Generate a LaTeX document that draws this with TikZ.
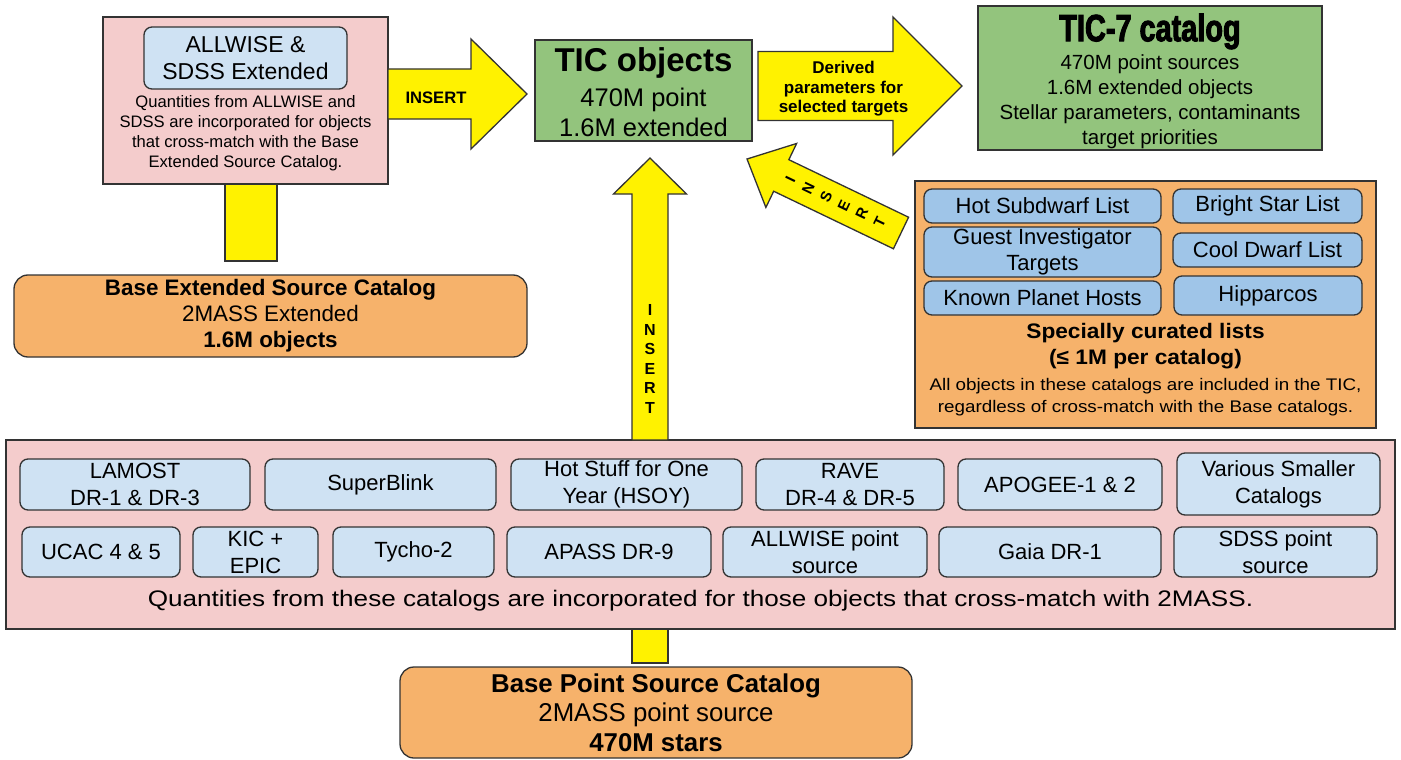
\documentclass[tikz,border=0pt]{standalone}
\usepackage{fontspec}
\setmainfont{Liberation Sans}
\newfontfamily\heavyfont[FakeStretch=0.76,FakeBold=2.5]{Liberation Sans}
\definecolor{pinkc}{HTML}{F4CCCC}
\definecolor{lbluec}{HTML}{CFE2F3}
\definecolor{mbluec}{HTML}{9FC5E8}
\definecolor{orangec}{HTML}{F6B26B}
\definecolor{greenc}{HTML}{93C47D}
\definecolor{edgec}{HTML}{333333}
\newcommand\fs[2]{\fontsize{#1}{#2}\selectfont}
\newcommand\sx[2]{\scalebox{#1}[1]{#2}}
% block arrow: #1 tail coordinate, #2 tip coordinate, #3 shaft half width, #4 head half width, #5 head length
\newcommand\blockarrow[5]{%
  \path (#1); \pgfgetlastxy{\BAax}{\BAay}%
  \path (#2); \pgfgetlastxy{\BAbx}{\BAby}%
  \pgfmathsetmacro\BAang{atan2(\BAby-\BAay,\BAbx-\BAax)}%
  \pgfmathsetmacro\BAlen{veclen(\BAbx-\BAax,\BAby-\BAay)}%
  \pgfmathsetmacro\BAhb{\BAlen-#5}%
  \begin{scope}[shift={(\BAax,\BAay)},rotate=\BAang]
    \draw[yarrow] (0pt,#3pt) -- (\BAhb pt,#3pt) -- (\BAhb pt,#4pt) -- (\BAlen pt,0pt)
      -- (\BAhb pt,-#4pt) -- (\BAhb pt,-#3pt) -- (0pt,-#3pt) -- cycle;
  \end{scope}}
\begin{document}
\begin{tikzpicture}[x=1pt,y=-1pt,
  every node/.style={inner sep=0pt,outer sep=0pt},
  bx/.style={draw=edgec,line width=1.3pt,anchor=north west,align=center},
  pinkbox/.style={bx,fill=pinkc},
  lblue/.style={bx,fill=lbluec,rounded corners=8pt,font=\fs{22}{27}},
  mblue/.style={bx,fill=mbluec,rounded corners=8pt,font=\fs{22}{26}},
  orbox/.style={bx,fill=orangec,rounded corners=14pt},
  grbox/.style={bx,fill=greenc},
  yarrow/.style={draw=edgec,line width=1.3pt,fill=yellow},
  ystem/.style={bx,fill=yellow},
  txt/.style={align=center}]
\fill[white] (0,0) rectangle (1401,760);
\useasboundingbox (0,0) rectangle (1401,760);

% ---- top left: ALLWISE & SDSS extended
\node[pinkbox,minimum width=285pt,minimum height=167pt] (awbox) at (103,17) {};
\node[lblue,font=\fs{23}{27},minimum width=203pt,minimum height=62pt] (awsrc) at (144,27) {ALLWISE \&\\SDSS Extended};
\node[txt,font=\fs{16.6}{20}] (awtxt) at (245.5,133) {Quantities from ALLWISE and\\SDSS are incorporated for objects\\that cross-match with the Base\\Extended Source Catalog.};
\node[ystem,minimum width=52pt,minimum height=77pt] (stem1) at (225,184) {};
\node[orbox,minimum width=513pt,minimum height=82pt,font=\fs{22.4}{26}] (bes) at (14,275) {\textbf{Base Extended Source Catalog}\\2MASS Extended\\\textbf{1.6M objects}};

% ---- TIC objects
\node[grbox,minimum width=217pt,minimum height=101pt] (tic) at (535,40) {};
\node[font=\fs{33}{36}\bfseries] (tict) at (643.5,63) {TIC objects};
\node[txt,font=\fs{25.5}{30}] (ticb) at (643.5,112) {470M point\\1.6M extended};

% ---- TIC-7 catalog
\node[grbox,minimum width=344pt,minimum height=144pt] (tic7) at (978,6) {};
\node[font=\heavyfont\bfseries\fs{38}{40}] (tic7t) at (1150,31.5) {TIC-7 catalog};
\node[txt,font=\fs{20.5}{25}] (tic7b) at (1150,101.5) {470M point sources\\1.6M extended objects\\Stellar parameters, contaminants\\target priorities};

% ---- specially curated lists
\node[bx,fill=orangec,minimum width=461pt,minimum height=247pt] (cur) at (915,181) {};
\node[mblue,minimum width=237pt,minimum height=34pt] (hsd) at (924,189) {Hot Subdwarf List};
\node[mblue,minimum width=237pt,minimum height=50pt] (git) at (924,227) {Guest Investigator\\Targets};
\node[mblue,minimum width=237pt,minimum height=34pt] (kph) at (924,281) {Known Planet Hosts};
\node[mblue,minimum width=189pt,minimum height=34pt] (bsl) at (1173,189) {Bright Star List};
\node[mblue,minimum width=189pt,minimum height=34pt] (cdl) at (1173,233) {Cool Dwarf List};
\node[mblue,minimum width=188pt,minimum height=39pt] (hip) at (1174,276) {Hipparcos};
\node[txt,font=\fs{21}{26}\bfseries] (curt) at (1145.5,346) {\sx{1.08}{Specially curated lists}\\\sx{1.08}{(≤ 1M per catalog)}};
\node[txt,font=\fs{16.8}{22}] (curs) at (1145.5,397) {\sx{1.12}{All objects in these catalogs are included in the TIC,}\\\sx{1.12}{regardless of cross-match with the Base catalogs.}};

% ---- bottom cross-match catalogs
\node[pinkbox,minimum width=1389pt,minimum height=189pt] (bp) at (6,440) {};
\node[lblue,minimum width=230pt,minimum height=51pt] (lamost) at (20,459) {LAMOST\\DR-1 \& DR-3};
\node[lblue,minimum width=231pt,minimum height=51pt] (sblink) at (265,459) {SuperBlink};
\node[lblue,minimum width=231pt,minimum height=51pt] (hsoy) at (511,459) {Hot Stuff for One\\Year (HSOY)};
\node[lblue,minimum width=188pt,minimum height=51pt] (rave) at (756,459) {RAVE\\DR-4 \& DR-5};
\node[lblue,minimum width=204pt,minimum height=51pt] (apogee) at (958,459) {APOGEE-1 \& 2};
\node[lblue,minimum width=203pt,minimum height=62pt] (various) at (1177,453) {Various Smaller\\Catalogs};
\node[lblue,minimum width=158pt,minimum height=50pt] (ucac) at (22,527) {UCAC 4 \& 5};
\node[lblue,minimum width=125pt,minimum height=50pt] (kic) at (193,527) {KIC +\\EPIC};
\node[lblue,minimum width=161pt,minimum height=50pt] (tycho) at (333,527) {Tycho-2};
\node[lblue,minimum width=204pt,minimum height=50pt] (apass) at (507,527) {APASS DR-9};
\node[lblue,minimum width=204pt,minimum height=50pt] (awpt) at (723,527) {ALLWISE point\\source};
\node[lblue,minimum width=222pt,minimum height=50pt] (gaia) at (939,527) {Gaia DR-1};
\node[lblue,minimum width=203pt,minimum height=50pt] (sdss) at (1174,527) {SDSS point\\source};
\node[font=\fs{22.5}{27}] (bpt) at (700.5,600.5) {\sx{1.16}{Quantities from these catalogs are incorporated for those objects that cross-match with 2MASS.}};
\node[ystem,minimum width=36pt,minimum height=34pt] (stem2) at (632,629) {};
\node[orbox,minimum width=512pt,minimum height=91pt,font=\fs{25.8}{29.5}] (bps) at (400,667) {\textbf{Base Point Source Catalog}\\2MASS point source\\\textbf{470M stars}};

% ---- yellow block arrows
\coordinate (a1s) at (388,94);
\coordinate (a1e) at (527,94);
\blockarrow{a1s}{a1e}{25}{55}{56}
\node[font=\fs{16.6}{20}\bfseries] (a1t) at (436,97.5) {INSERT};

\coordinate (a2s) at (758,86);
\coordinate (a2e) at (962,86);
\blockarrow{a2s}{a2e}{34.5}{69}{69}
\node[txt,font=\fs{17}{19.5}\bfseries] (a2t) at (843.5,89) {Derived\\parameters for\\selected targets};

\coordinate (a3s) at (901,233);
\coordinate (a3e) at (747,159);
\blockarrow{a3s}{a3e}{17.5}{35.5}{38}
\node[txt,rotate=64.3,font=\fs{15}{19.8}\bfseries] (a3t) at (835,201) {I\\N\\S\\E\\R\\T};

\coordinate (a4s) at (650,440);
\coordinate (a4e) at (650,158);
\blockarrow{a4s}{a4e}{18}{36.5}{36}
\node[txt,font=\fs{16}{19.6}\bfseries] (a4t) at (650,359) {I\\N\\S\\E\\R\\T};
\end{tikzpicture}
\end{document}
